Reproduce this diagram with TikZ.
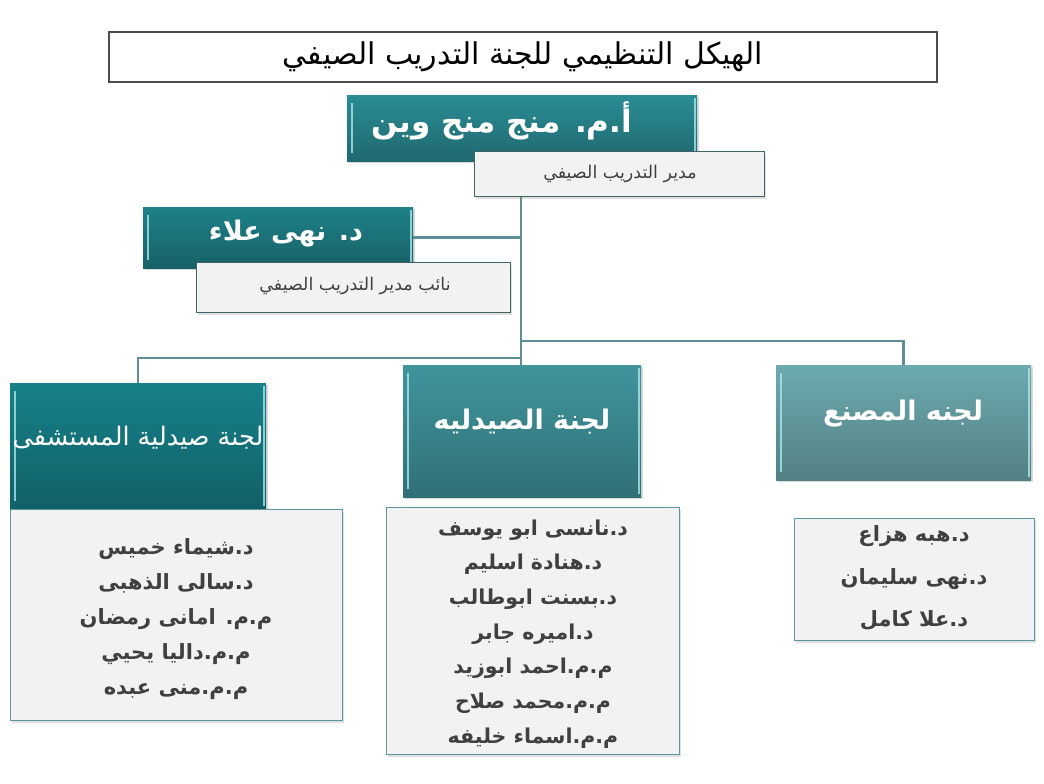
\documentclass[tikz,border=0pt]{standalone}
\usepackage{fontspec}
\usetikzlibrary{shadows,calc,backgrounds}
\TeXXeTstate=1
\newfontfamily\arabicfont[Script=Arabic]{DejaVu Sans}
\newcommand\arl[1]{\beginR #1\endR}
\definecolor{linecol}{HTML}{5E8F94}
\definecolor{boxgray}{HTML}{F2F2F2}
\definecolor{txtgray}{HTML}{404040}
\definecolor{subborder}{HTML}{3E6466}
\definecolor{listborder}{HTML}{5A979C}
\definecolor{bevel}{HTML}{A8E6EC}
\definecolor{tealtop}{HTML}{2A8C94}
\definecolor{tealdep}{HTML}{1E8188}
\definecolor{tealleft}{HTML}{178089}
\definecolor{tealmid}{HTML}{40959D}
\definecolor{tealright}{HTML}{6DAAAF}
\tikzset{
  bevelbox/.style={inner sep=0pt, draw=none,
    path picture={
      \draw[bevel, line width=2pt, opacity=0.8]
        ([xshift=5pt,yshift=-8pt]path picture bounding box.north west) --
        ([xshift=5pt,yshift=8pt]path picture bounding box.south west);
      \draw[bevel, line width=2pt, opacity=0.8]
        ([xshift=-2pt,yshift=-3pt]path picture bounding box.north east) --
        ([xshift=-2pt,yshift=3pt]path picture bounding box.south east);
    },
    drop shadow={opacity=0.3, shadow xshift=1.5pt, shadow yshift=-2pt}},
  tealA/.style={bevelbox, top color=#1, bottom color=#1!75!black},
  subbox/.style={draw=subborder, fill=boxgray, line width=1.2pt, inner sep=0pt,
    drop shadow={opacity=0.25, shadow xshift=1.5pt, shadow yshift=-2pt}},
  listbox/.style={draw=listborder, fill=boxgray, line width=1.2pt, inner sep=0pt,
    drop shadow={opacity=0.25, shadow xshift=1.5pt, shadow yshift=-2pt}},
  conn/.style={draw=linecol, line width=2.5pt},
  whitetext/.style={text=white, inner sep=0pt},
  subtext/.style={text=txtgray, inner sep=0pt, font=\arabicfont\fontsize{17.5}{20}\selectfont},
  listtext/.style={text=txtgray, inner sep=0pt, align=center},
}
\begin{document}
\begin{tikzpicture}[x=1pt,y=-1pt]
\path[use as bounding box] (0,0) rectangle (1044,784);

% title
\node[draw=black!70, line width=2pt, fill=white, minimum width=828pt, minimum height=50pt,
      anchor=north west, inner sep=0pt] (title) at (108,31) {};
\node[inner sep=0pt, font=\arabicfont\fontsize{30}{36}\selectfont] (titletext) at (523,57)
  {\arl{الهيكل التنظيمي للجنة التدريب الصيفي}};

% top manager
\node[tealA=tealtop, minimum width=350pt, minimum height=66pt, anchor=north west] (top) at (347,95) {};
\node[whitetext, font=\arabicfont\bfseries\fontsize{31}{38}\selectfont] (toptext) at (502,121)
  {\arl{أ.م. منج منج وين}};
\node[subbox, minimum width=290pt, minimum height=45pt, anchor=north west] (topsub) at (474,151) {};
\node[subtext] (topsubtext) at (620,174) {\arl{مدير التدريب الصيفي}};

% deputy
\node[tealA=tealdep, minimum width=270pt, minimum height=61pt, anchor=north west] (dep) at (143,207) {};
\node[whitetext, font=\arabicfont\bfseries\fontsize{27}{34}\selectfont] (deptext) at (286,234)
  {\arl{د. نهى علاء}};
\node[subbox, minimum width=314pt, minimum height=50pt, anchor=north west] (depsub) at (196,262) {};
\node[subtext] (depsubtext) at (355,286) {\arl{نائب مدير التدريب الصيفي}};

% committees
\node[tealA=tealleft, minimum width=256pt, minimum height=126pt, anchor=north west] (left) at (10,383) {};
\node[whitetext, font=\arabicfont\fontsize{25.5}{30}\selectfont] (lefttext) at (138,438)
  {\arl{لجنة صيدلية المستشفى}};
\node[tealA=tealmid, minimum width=238pt, minimum height=132pt, anchor=north west] (mid) at (403,365) {};
\node[whitetext, font=\arabicfont\bfseries\fontsize{27}{32}\selectfont] (midtext) at (522,422)
  {\arl{لجنة الصيدليه}};
\node[tealA=tealright, minimum width=255pt, minimum height=115pt, anchor=north west] (right) at (776,365) {};
\node[whitetext, font=\arabicfont\bfseries\fontsize{27}{32}\selectfont] (righttext) at (903,414)
  {\arl{لجنه المصنع}};

% lists
\node[listbox, minimum width=332pt, minimum height=211pt, anchor=north west] (leftlist) at (10,509) {};
\node[listtext, font=\arabicfont\bfseries\fontsize{21}{34.8}\selectfont] (leftlisttext) at (176,619)
  {\arl{د.شيماء خميس}\\ \arl{د.سالى الذهبى}\\ \arl{م.م. امانى رمضان}\\ \arl{م.م.داليا يحيي}\\ \arl{م.م.منى عبده}};
\node[listbox, minimum width=293pt, minimum height=247pt, anchor=north west] (midlist) at (386,507) {};
\node[listtext, font=\arabicfont\bfseries\fontsize{20.5}{34.7}\selectfont] (midlisttext) at (533,634)
  {\arl{د.نانسى ابو يوسف}\\ \arl{د.هنادة اسليم}\\ \arl{د.بسنت ابوطالب}\\ \arl{د.اميره جابر}\\ \arl{م.م.احمد ابوزيد}\\ \arl{م.م.محمد صلاح}\\ \arl{م.م.اسماء خليفه}};
\node[listbox, minimum width=240pt, minimum height=122pt, anchor=north west] (rightlist) at (794,518) {};
\node[listtext, font=\arabicfont\bfseries\fontsize{21}{42.5}\selectfont] (rightlisttext) at (914,578)
  {\arl{د.هبه هزاع}\\ \arl{د.نهى سليمان}\\ \arl{د.علا كامل}};

% connectors
\coordinate (lj) at (521,358);
\coordinate (rj) at (521,341);
\begin{scope}[on background layer]
  \draw[conn] (topsub.south -| lj) -- (mid.north -| lj);
  \draw[conn] (dep.east) -- (dep.east -| lj);
  \draw[conn] (lj) -| (left.north);
  \draw[conn] (rj) -| (right.north);
\end{scope}
\end{tikzpicture}
\end{document}
